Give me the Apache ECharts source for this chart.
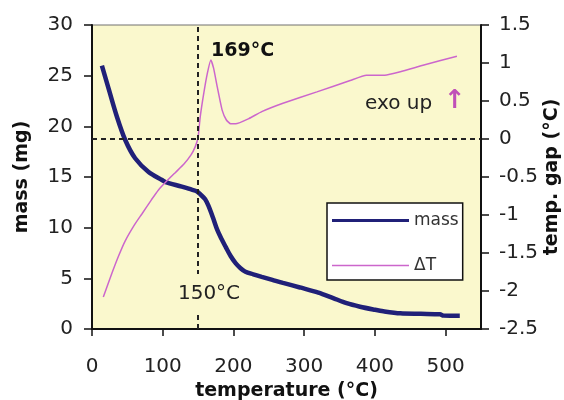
<!DOCTYPE html>
<html>
<head>
<meta charset="utf-8">
<script src="https://cdn.jsdelivr.net/npm/echarts@6/dist/echarts.min.js"></script>
<style>
html,body{margin:0;padding:0;background:#fff;}
#chart{width:564px;height:400px;}
</style>
</head>
<body>
<div id="chart"></div>
<script>
// temperature (°C) values for the mass curve and mass (mg)
var massTemp = [14, 24, 35, 47, 61, 80, 99, 104, 127, 141, 148, 153, 160, 165, 171, 177, 183, 189, 196, 203, 210, 217, 228, 240, 255, 270, 294, 320, 341, 360, 379, 400, 412, 436, 465, 492, 497, 520];
var massVal  = [26.0, 23.6, 21.0, 18.65, 16.85, 15.5, 14.7, 14.5, 14.05, 13.75, 13.6, 13.3, 12.8, 12.1, 11.0, 9.8, 8.9, 8.1, 7.2, 6.5, 6.0, 5.65, 5.4, 5.15, 4.85, 4.55, 4.1, 3.6, 3.05, 2.55, 2.2, 1.9, 1.75, 1.55, 1.5, 1.45, 1.32, 1.3];
// temperature (°C) values for the ΔT curve and temperature gap (°C)
var dTTemp = [16, 28, 38, 47, 60, 71, 84, 94, 105, 118, 130, 140, 146, 150, 153, 158, 163, 168, 172, 177, 184, 190, 196, 203, 222, 240, 270, 318, 365, 388, 414, 436, 468, 516];
var dTVal  = [-2.08, -1.77, -1.53, -1.34, -1.13, -0.98, -0.80, -0.67, -0.56, -0.44, -0.33, -0.21, -0.10, 0.02, 0.29, 0.60, 0.86, 1.04, 0.93, 0.69, 0.38, 0.25, 0.20, 0.20, 0.27, 0.36, 0.47, 0.62, 0.77, 0.84, 0.84, 0.885, 0.97, 1.09];
// axis ticks
var xTicks = [0, 100, 200, 300, 400, 500];
var seriesNames = ['mass', 'ΔT'];
var peakLabel = '169°C';
var markTemp = 150;
var markLabel = '150°C';

var massData = massTemp.map(function (t, i) { return [t, massVal[i]]; });
var dTData = dTTemp.map(function (t, i) { return [t, dTVal[i]]; });

var FONT = 'DejaVu Sans';
var BG = '#FAF8CD';
var MASS_C = '#202078';
var DT_C = '#CC66CC';
var chart = echarts.init(document.getElementById('chart'), null, {renderer: 'canvas'});
chart.setOption({
  backgroundColor: '#ffffff',
  animation: false,
  textStyle: {fontFamily: FONT},
  grid: {left: 92, right: 83, top: 25, bottom: 71, containLabel: false, outerBoundsMode: 'none',
         show: true, backgroundColor: BG, borderColor: '#707070', borderWidth: 1},
  legend: {
    orient: 'vertical', left: 327, top: 203,
    backgroundColor: '#ffffff', borderColor: '#111', borderWidth: 1.5,
    padding: [9, 4, 6, 5],
    itemWidth: 77, itemHeight: 14, itemGap: 28,
    data: [
      {name: seriesNames[0], icon: 'path://M0,0H77V3H0Z', itemStyle: {color: MASS_C}},
      {name: seriesNames[1], icon: 'path://M0,0H77V1.6H0Z', itemStyle: {color: DT_C}}
    ],
    textStyle: {fontFamily: FONT, fontSize: 17, color: '#333'}
  },
  xAxis: {
    type: 'value', min: 0, max: 550,
    name: 'temperature (°C)', nameLocation: 'middle', nameGap: 53, nameMoveOverlap: false,
    nameTextStyle: {fontFamily: FONT, fontSize: 19, fontWeight: 'bold', color: '#111'},
    axisLine: {show: true, lineStyle: {color: '#111', width: 2}},
    axisTick: {show: true, length: 7, inside: false, lineStyle: {color: '#111', width: 1.5}, customValues: xTicks},
    axisLabel: {fontFamily: FONT, fontSize: 20, color: '#222', margin: 28, customValues: xTicks},
    splitLine: {show: false}
  },
  yAxis: [{
    type: 'value', min: 0, max: 30, interval: 5, position: 'left',
    name: 'mass (mg)', nameLocation: 'middle', nameGap: 60, nameRotate: 90, nameMoveOverlap: false,
    nameTextStyle: {fontFamily: FONT, fontSize: 19, fontWeight: 'bold', color: '#111'},
    axisLine: {show: true, lineStyle: {color: '#111', width: 2}},
    axisTick: {show: true, length: 8, lineStyle: {color: '#111', width: 1.5}},
    axisLabel: {fontFamily: FONT, fontSize: 20, color: '#222', margin: 19},
    splitLine: {show: false}
  }, {
    type: 'value', min: -2.5, max: 1.5, interval: 0.5, position: 'right',
    name: 'temp. gap (°C)', nameLocation: 'middle', nameGap: 62, nameRotate: 90, nameMoveOverlap: false,
    nameTextStyle: {fontFamily: FONT, fontSize: 19, fontWeight: 'bold', color: '#111'},
    axisLine: {show: true, lineStyle: {color: '#111', width: 2}},
    axisTick: {show: true, length: 8, lineStyle: {color: '#111', width: 1.5}},
    axisLabel: {fontFamily: FONT, fontSize: 20, color: '#222', margin: 18},
    splitLine: {show: false}
  }],
  series: [{
    name: seriesNames[0], type: 'line', yAxisIndex: 0,
    data: massData, symbol: 'none', smooth: 0.3,
    lineStyle: {color: MASS_C, width: 4.5},
    itemStyle: {color: MASS_C},
    z: 3
  }, {
    name: seriesNames[1], type: 'line', yAxisIndex: 1,
    data: dTData, symbol: 'none', smooth: 0.15,
    lineStyle: {color: DT_C, width: 1.5},
    itemStyle: {color: DT_C},
    z: 4,
    markLine: {
      silent: true, symbol: 'none', animation: false,
      label: {show: false},
      lineStyle: {color: '#222', width: 2, type: [5, 4]},
      data: [{yAxis: 0}, {xAxis: markTemp}]
    }
  }],
  graphic: [
    {type: 'text', z: 100, style: {text: peakLabel, x: 211, y: 51, verticalAlign: 'middle', font: 'bold 19px "DejaVu Sans"', fill: '#111'}},
    {type: 'text', z: 100, style: {text: markLabel, x: 209, y: 294, align: 'center', verticalAlign: 'middle', font: '20px "DejaVu Sans"', fill: '#222', backgroundColor: BG, padding: [10, 1, 10, 1]}},
    {type: 'text', z: 100, style: {text: 'exo up', x: 365, y: 104, verticalAlign: 'middle', font: '20px "DejaVu Sans"', fill: '#222'}},
    {type: 'text', z: 100, style: {text: '↑', x: 455, y: 101, align: 'center', verticalAlign: 'middle', font: 'bold 26px "DejaVu Sans"', fill: '#C050B8'}}
  ]
});
</script>
</body>
</html>
